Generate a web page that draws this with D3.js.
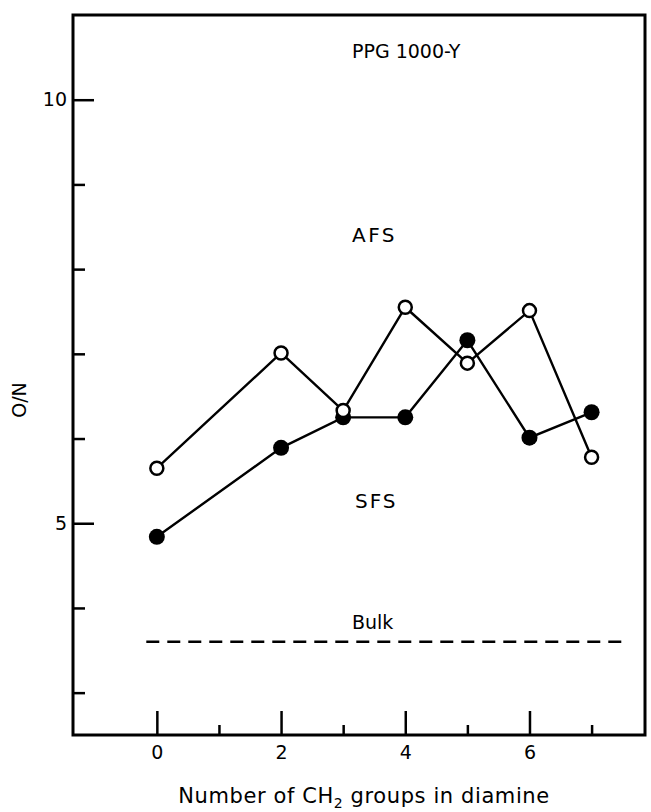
<!DOCTYPE html>
<html>
<head>
<meta charset="utf-8">
<script src="https://cdn.jsdelivr.net/npm/d3@7/dist/d3.min.js"></script>
<style>
  html, body { margin: 0; padding: 0; background: #fff; }
  svg text { font-family: "DejaVu Sans", sans-serif; fill: #000; }
</style>
</head>
<body>
<svg id="chart" width="651" height="812"></svg>
<script>
// ---- data ----
const chainLengths = [0, 2, 3, 4, 5, 6, 7];
const afsValues = [5.65, 7.01, 6.33, 7.55, 6.89, 7.51, 5.78];
const sfsValues = [4.84, 5.89, 6.25, 6.25, 7.16, 6.01, 6.31];
const bulkValue = 3.6;
const bulkRange = [-0.17, 7.5];
const xMajorTicks = [0, 2, 4, 6];
const xMinorTicks = [1, 3, 5, 7];
const yMajorTicks = [5, 10];
const yMinorTicks = [3, 4, 6, 7, 8, 9];
const labels = { title: "PPG 1000-Y", afs: "AFS", sfs: "SFS", bulk: "Bulk" };

// ---- layout ----
const L = 73, R = 645, T = 15, B = 735;
const svg = d3.select("#chart");
const x = d3.scaleLinear().domain([-1.35, 7.86]).range([L, R]);
const y = d3.scaleLinear().domain([2.5, 11]).range([B, T]);
const FONT = '"DejaVu Sans", sans-serif';

// frame
svg.append("rect").attr("x", L).attr("y", T).attr("width", R - L).attr("height", B - T)
  .attr("fill", "none").attr("stroke", "#000").attr("stroke-width", 3);

// y axis (ticks point inward)
const yMaj = svg.append("g").attr("transform", `translate(${L},0)`)
  .call(d3.axisLeft(y).tickValues(yMajorTicks).tickSize(-21));
yMaj.select(".domain").remove();
yMaj.selectAll("line").attr("stroke", "#000").attr("stroke-width", 2.5);
yMaj.selectAll("text").attr("x", -6).attr("font-size", 19).attr("fill", "#000")
  .style("font-family", FONT);
const yMin = svg.append("g").attr("transform", `translate(${L},0)`)
  .call(d3.axisLeft(y).tickValues(yMinorTicks).tickSize(-12).tickFormat(""));
yMin.select(".domain").remove();
yMin.selectAll("line").attr("stroke", "#000").attr("stroke-width", 2.5);

// x axis (ticks point inward)
const xMaj = svg.append("g").attr("transform", `translate(0,${B})`)
  .call(d3.axisBottom(x).tickValues(xMajorTicks).tickSize(-24));
xMaj.select(".domain").remove();
xMaj.selectAll("line").attr("stroke", "#000").attr("stroke-width", 2.5);
xMaj.selectAll("text").attr("y", 11).attr("font-size", 19).attr("fill", "#000")
  .style("font-family", FONT);
const xMin = svg.append("g").attr("transform", `translate(0,${B})`)
  .call(d3.axisBottom(x).tickValues(xMinorTicks).tickSize(-10).tickFormat(""));
xMin.select(".domain").remove();
xMin.selectAll("line").attr("stroke", "#000").attr("stroke-width", 2.5);

// axis titles
const xt = svg.append("text").attr("x", 364).attr("y", 803).attr("text-anchor", "middle")
  .attr("font-size", 21).attr("letter-spacing", 0.6);
xt.append("tspan").text("Number of  CH");
xt.append("tspan").attr("font-size", 14).attr("dy", 5).text("2");
xt.append("tspan").attr("dy", -5).text(" groups in diamine");

svg.append("text").attr("transform", "translate(26,400) rotate(-90)")
  .attr("text-anchor", "middle").attr("font-size", 19).text("O/N");

// bulk dashed line
svg.append("line")
  .attr("x1", x(bulkRange[0])).attr("x2", x(bulkRange[1]))
  .attr("y1", y(bulkValue)).attr("y2", y(bulkValue))
  .attr("stroke", "#000").attr("stroke-width", 2.5).attr("stroke-dasharray", "13,8");

// series
const afs = chainLengths.map((c, i) => [c, afsValues[i]]);
const sfs = chainLengths.map((c, i) => [c, sfsValues[i]]);
const line = d3.line().x(d => x(d[0])).y(d => y(d[1]));
svg.append("path").datum(afs).attr("d", line).attr("fill", "none").attr("stroke", "#000").attr("stroke-width", 2.4);
svg.append("path").datum(sfs).attr("d", line).attr("fill", "none").attr("stroke", "#000").attr("stroke-width", 2.4);

svg.append("g").selectAll("circle").data(sfs).join("circle")
  .attr("cx", d => x(d[0])).attr("cy", d => y(d[1])).attr("r", 8).attr("fill", "#000");
svg.append("g").selectAll("circle").data(afs).join("circle")
  .attr("cx", d => x(d[0])).attr("cy", d => y(d[1])).attr("r", 6.5)
  .attr("fill", "#fff").attr("stroke", "#000").attr("stroke-width", 2.5);

// annotations
svg.append("text").attr("x", 352).attr("y", 58).attr("font-size", 19).text(labels.title);
svg.append("text").attr("x", 352).attr("y", 242).attr("font-size", 20).attr("letter-spacing", 2.5).text(labels.afs);
svg.append("text").attr("x", 355).attr("y", 508).attr("font-size", 20).attr("letter-spacing", 2).text(labels.sfs);
svg.append("text").attr("x", 352).attr("y", 629).attr("font-size", 19).text(labels.bulk);
</script>
</body>
</html>
